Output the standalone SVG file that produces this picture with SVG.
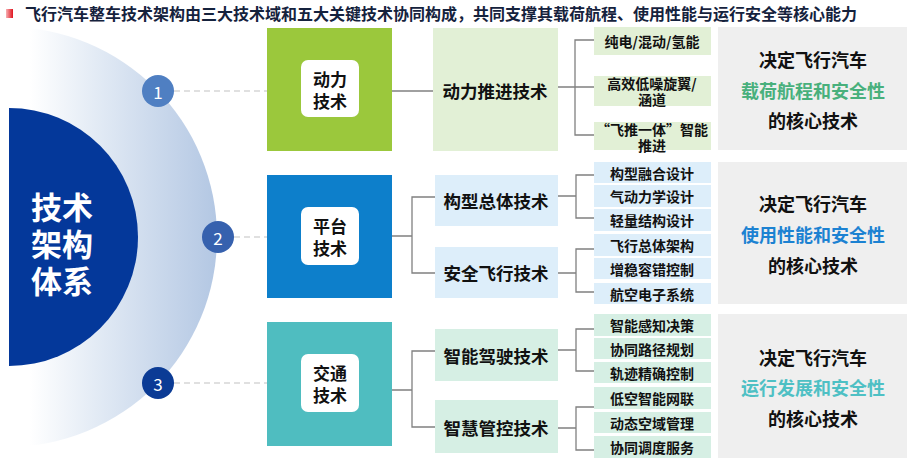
<svg xmlns="http://www.w3.org/2000/svg" width="909" height="462" viewBox="0 0 909 462">
<defs>
<linearGradient id="arcGrad" gradientUnits="userSpaceOnUse" x1="30" y1="0" x2="217" y2="0">
<stop offset="0" stop-color="#ffffff"/>
<stop offset="0.35" stop-color="#e3ebf5"/>
<stop offset="1" stop-color="#b3c7e3"/>
</linearGradient>
<linearGradient id="redGrad" x1="0" y1="0" x2="1" y2="0">
<stop offset="0" stop-color="#f7b0b3"/>
<stop offset="1" stop-color="#e0141e"/>
</linearGradient>
<style>
text{font-family:"Noto Sans CJK SC","Noto Sans",sans-serif;font-weight:bold;}
.title{font-size:16px;fill:#15223d;}
.big{font-size:31px;fill:#ffffff;text-anchor:middle;}
.num{font-size:17px;fill:#ffffff;text-anchor:middle;font-weight:normal;}
.dom{font-size:17px;fill:#111;text-anchor:middle;}
.mid{font-size:17.5px;fill:#111;text-anchor:middle;}
.sub{font-size:14px;fill:#111;text-anchor:middle;}
.res{font-size:18px;fill:#111;text-anchor:middle;}
.dash{stroke:#c2c2c2;stroke-width:1.2;stroke-dasharray:6 4;fill:none;}
.conn{stroke:#808080;stroke-width:1.3;fill:none;}
.inner{fill:#ffffff;}
.grey{fill:#efefef;}
.g1{fill:#e2f0d6;}
.g2{fill:#ddeefa;}
.g3{fill:#d6efe4;}
</style>
</defs>
<rect width="909" height="462" fill="#ffffff"/>

<g id="title">
<rect x="6" y="9" width="7" height="9" fill="url(#redGrad)"/>
<text class="title" x="25" y="13" dominant-baseline="central">飞行汽车整车技术架构由三大技术域和五大关键技术协同构成，共同支撑其载荷航程、使用性能与运行安全等核心能力</text>
</g>

<g id="core">
<circle cx="7" cy="237" r="210" fill="url(#arcGrad)"/>
<path d="M9,108 A129,129 0 0 1 9,366 Z" fill="#04389a"/>
<text class="big" x="62" y="205" dominant-baseline="central"><tspan x="62" y="205">技术</tspan><tspan x="62" y="242">架构</tspan><tspan x="62" y="279">体系</tspan></text>
</g>

<g id="connectors">
<line class="dash" x1="174" y1="91" x2="267" y2="91"/>
<line class="dash" x1="234" y1="237" x2="267" y2="237"/>
<line class="dash" x1="174" y1="383" x2="267" y2="383"/>

<line class="conn" x1="392" y1="91" x2="433" y2="91"/>
<path class="conn" d="M558,87 H575 M594,40 H575 V135 H594 M575,87 H594"/>

<path class="conn" d="M392,236 H412 M435,197 H412 V273 H435"/>
<path class="conn" d="M558,196 H576 M594,175 H576 V218 H594"/>
<path class="conn" d="M558,273 H576 M594,249 H576 V292 H594"/>

<path class="conn" d="M392,390 H412 M435,351 H412 V427 H435"/>
<path class="conn" d="M558,350 H576 M594,329 H576 V371 H594"/>
<path class="conn" d="M558,428 H576 M594,407 H576 V450 H594"/>
</g>

<g id="n1">
<circle cx="158" cy="91" r="16" fill="#4f7fc2"/>
<text class="num" x="158" y="91" dominant-baseline="central">1</text>
</g>
<g id="n2">
<circle cx="218" cy="237" r="16" fill="#3661ae"/>
<text class="num" x="218" y="237" dominant-baseline="central">2</text>
</g>
<g id="n3">
<circle cx="158" cy="383" r="16" fill="#0b3b95"/>
<text class="num" x="158" y="383" dominant-baseline="central">3</text>
</g>

<g id="power-domain">
<rect x="267" y="28" width="125" height="123" fill="#9bc83c"/>
<rect class="inner" x="301" y="60" width="58" height="57" rx="7"/>
<text class="dom" x="330" y="78" dominant-baseline="central"><tspan x="330" y="78">动力</tspan><tspan x="330" y="100">技术</tspan></text>
</g>
<g id="platform-domain">
<rect x="267" y="175" width="125" height="123" fill="#0d7fcb"/>
<rect class="inner" x="301" y="207" width="58" height="58" rx="7"/>
<text class="dom" x="330" y="225" dominant-baseline="central"><tspan x="330" y="225">平台</tspan><tspan x="330" y="247">技术</tspan></text>
</g>
<g id="traffic-domain">
<rect x="267" y="322" width="125" height="124" fill="#4fbdc0"/>
<rect class="inner" x="301" y="354" width="58" height="58" rx="7"/>
<text class="dom" x="330" y="372" dominant-baseline="central"><tspan x="330" y="372">交通</tspan><tspan x="330" y="394">技术</tspan></text>
</g>

<g id="propulsion">
<rect class="g1" x="433" y="28" width="125" height="123"/>
<text class="mid" x="495" y="90" dominant-baseline="central">动力推进技术</text>
</g>
<g id="configuration">
<rect class="g2" x="435" y="175" width="123" height="51"/>
<text class="mid" x="496" y="200" dominant-baseline="central">构型总体技术</text>
</g>
<g id="safe-flight">
<rect class="g2" x="435" y="247" width="123" height="51"/>
<text class="mid" x="496" y="272" dominant-baseline="central">安全飞行技术</text>
</g>
<g id="smart-driving">
<rect class="g3" x="435" y="329" width="123" height="52"/>
<text class="mid" x="496" y="355" dominant-baseline="central">智能驾驶技术</text>
</g>
<g id="smart-control">
<rect class="g3" x="435" y="400" width="123" height="53"/>
<text class="mid" x="496" y="427" dominant-baseline="central">智慧管控技术</text>
</g>

<g id="p1">
<rect class="g1" x="594" y="27" width="117" height="28"/>
<text class="sub" x="652" y="41" dominant-baseline="central">纯电/混动/氢能</text>
</g>
<g id="p2">
<rect class="g1" x="594" y="76" width="117" height="30"/>
<text class="sub" x="652" y="83" dominant-baseline="central"><tspan x="652" y="83">高效低噪旋翼/</tspan><tspan x="652" y="99">涵道</tspan></text>
</g>
<g id="p3">
<rect class="g1" x="594" y="122" width="117" height="28"/>
<text class="sub" x="652" y="129" dominant-baseline="central"><tspan x="652" y="129">“飞推一体”智能</tspan><tspan x="652" y="145">推进</tspan></text>
</g>

<g id="c1"><rect class="g2" x="594" y="162" width="117" height="21"/><text class="sub" x="652" y="172.5" dominant-baseline="central">构型融合设计</text></g>
<g id="c2"><rect class="g2" x="594" y="185" width="117" height="22"/><text class="sub" x="652" y="196" dominant-baseline="central">气动力学设计</text></g>
<g id="c3"><rect class="g2" x="594" y="209" width="117" height="22"/><text class="sub" x="652" y="220" dominant-baseline="central">轻量结构设计</text></g>
<g id="s1"><rect class="g2" x="594" y="234" width="117" height="22"/><text class="sub" x="652" y="245" dominant-baseline="central">飞行总体架构</text></g>
<g id="s2"><rect class="g2" x="594" y="258" width="117" height="21"/><text class="sub" x="652" y="268.5" dominant-baseline="central">增稳容错控制</text></g>
<g id="s3"><rect class="g2" x="594" y="283" width="117" height="21"/><text class="sub" x="652" y="293.5" dominant-baseline="central">航空电子系统</text></g>

<g id="d1"><rect class="g3" x="594" y="314" width="117" height="22"/><text class="sub" x="652" y="325" dominant-baseline="central">智能感知决策</text></g>
<g id="d2"><rect class="g3" x="594" y="338" width="117" height="21"/><text class="sub" x="652" y="348.5" dominant-baseline="central">协同路径规划</text></g>
<g id="d3"><rect class="g3" x="594" y="362" width="117" height="21"/><text class="sub" x="652" y="372.5" dominant-baseline="central">轨迹精确控制</text></g>
<g id="m1"><rect class="g3" x="594" y="387" width="117" height="22"/><text class="sub" x="652" y="398" dominant-baseline="central">低空智能网联</text></g>
<g id="m2"><rect class="g3" x="594" y="412" width="117" height="21"/><text class="sub" x="652" y="422.5" dominant-baseline="central">动态空域管理</text></g>
<g id="m3"><rect class="g3" x="594" y="436" width="117" height="22"/><text class="sub" x="652" y="447" dominant-baseline="central">协同调度服务</text></g>

<g id="r1">
<rect class="grey" x="718" y="27" width="189" height="123"/>
<text class="res" x="813" y="59" dominant-baseline="central">决定飞行汽车</text>
<text class="res" x="813" y="90" dominant-baseline="central" style="fill:#48b07c">载荷航程和安全性</text>
<text class="res" x="813" y="120" dominant-baseline="central">的核心技术</text>
</g>
<g id="r2">
<rect class="grey" x="718" y="162" width="189" height="142"/>
<text class="res" x="813" y="203" dominant-baseline="central">决定飞行汽车</text>
<text class="res" x="813" y="234" dominant-baseline="central" style="fill:#1c82d2">使用性能和安全性</text>
<text class="res" x="813" y="265" dominant-baseline="central">的核心技术</text>
</g>
<g id="r3">
<rect class="grey" x="718" y="314" width="189" height="144"/>
<text class="res" x="813" y="357" dominant-baseline="central">决定飞行汽车</text>
<text class="res" x="813" y="387" dominant-baseline="central" style="fill:#4ec0c4">运行发展和安全性</text>
<text class="res" x="813" y="418" dominant-baseline="central">的核心技术</text>
</g>
</svg>
